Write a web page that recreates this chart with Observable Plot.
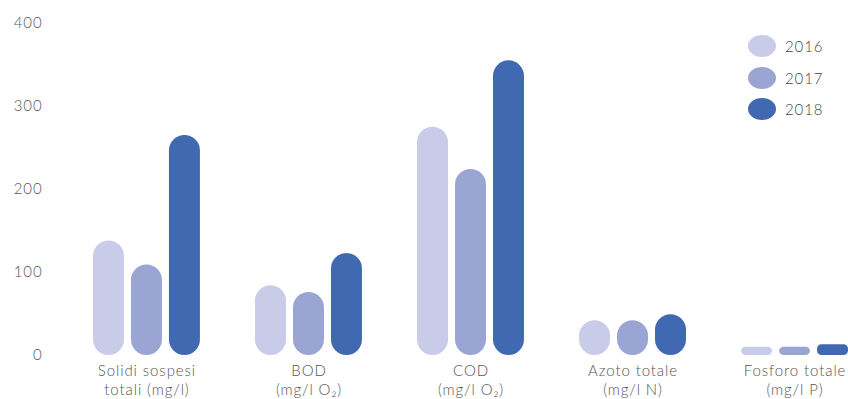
<!DOCTYPE html>
<html>
<head>
<meta charset="utf-8">
<script src="https://cdn.jsdelivr.net/npm/d3@7"></script>
<script src="https://cdn.jsdelivr.net/npm/@observablehq/plot@0.6"></script>
<style>
  html, body { margin: 0; padding: 0; background: #fff; }
  #wrap { position: relative; width: 848px; height: 399px; font-family: "Lato", "Open Sans", sans-serif; font-weight: 300; }
  #legend { position: absolute; left: 748px; top: 35px; }
  .item { display: flex; align-items: center; height: 22px; margin-bottom: 9.5px; }
  .sw { width: 28px; height: 22px; border-radius: 50%; margin-right: 9px; }
  .lab { font-size: 15px; color: #444; letter-spacing: 0.9px; }
  svg text { letter-spacing: 0.9px; }
</style>
</head>
<body>
<div id="wrap"></div>
<script>
const categories = [
  "Solidi sospesi\ntotali (mg/l)",
  "BOD\n(mg/l O₂)",
  "COD\n(mg/l O₂)",
  "Azoto totale\n(mg/l N)",
  "Fosforo totale\n(mg/l P)"
];
const years = ["2016", "2017", "2018"];
const v2016 = [138, 84, 275, 42, 10];
const v2017 = [109, 76, 224, 42, 10];
const v2018 = [265, 123, 355, 49, 13];
const colors = ["#c8cce9", "#9aa5d4", "#4169b1"];
const yTicks = [0, 100, 200, 300, 400];

const series = [v2016, v2017, v2018];
const data = [];
categories.forEach((c, i) => {
  years.forEach((y, j) => data.push({cat: c, year: y, value: series[j][i]}));
});

const chart = Plot.plot({
  width: 848,
  height: 399,
  marginTop: 23,
  marginBottom: 44,
  marginLeft: 93,
  marginRight: 0,
  style: {fontFamily: "Lato, 'Open Sans', sans-serif", fontSize: "15px", color: "#555", fontWeight: 300, background: "#fff"},
  fx: {domain: categories, paddingInner: 0.34, paddingOuter: 0, round: false, axis: null, label: null},
  x: {domain: years, paddingInner: 0.184, paddingOuter: 0, round: false, axis: null, label: null},
  y: {domain: [0, 400], ticks: yTicks, tickSize: 0, tickPadding: 51, label: null, grid: false},
  color: {domain: years, range: colors},
  marks: [
    Plot.barY(data, {filter: d => d.value >= 20, fx: "cat", x: "year", y: "value", fill: "year", rx: 15.5}),
    Plot.barY(data, {filter: d => d.value < 20, fx: "cat", x: "year", y: "value", fill: "year", rx: 4.5}),
    Plot.text(categories, {fx: d => d, text: d => d, frameAnchor: "bottom", lineAnchor: "top", dy: 7, lineHeight: 1.27, fill: "#555", fontSize: 15})
  ]
});

const wrap = document.getElementById("wrap");
wrap.appendChild(chart);

const legend = document.createElement("div");
legend.id = "legend";
years.forEach((y, j) => {
  const it = document.createElement("div");
  it.className = "item";
  const sw = document.createElement("div");
  sw.className = "sw";
  sw.style.background = colors[j];
  const lb = document.createElement("span");
  lb.className = "lab";
  lb.textContent = y;
  it.appendChild(sw);
  it.appendChild(lb);
  legend.appendChild(it);
});
wrap.appendChild(legend);
</script>
</body>
</html>
